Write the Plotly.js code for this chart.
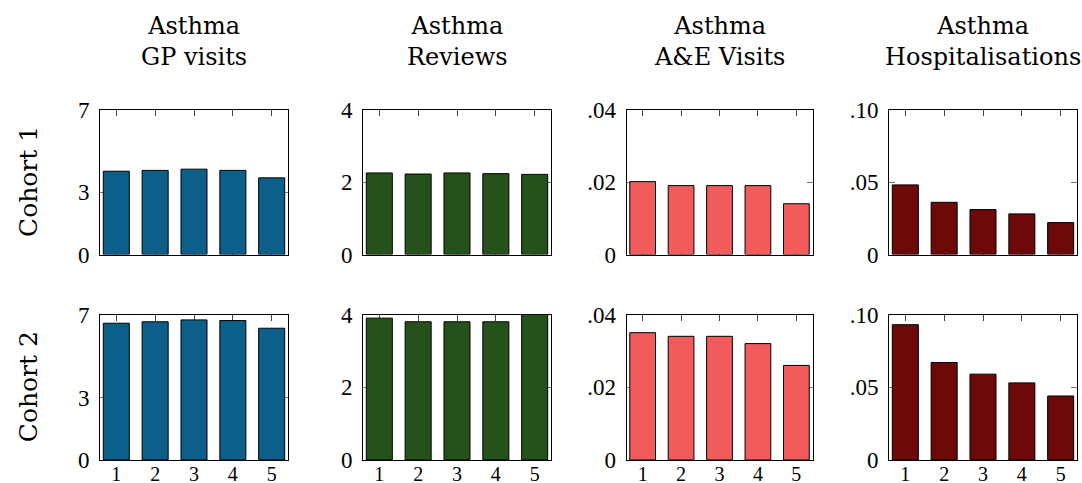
<!DOCTYPE html>
<html>
<head>
<meta charset="utf-8">
<script src="https://cdn.plot.ly/plotly-3.0.1.min.js"></script>
<style>
  html, body { margin: 0; padding: 0; background: #fff; }
  #chart { width: 1082px; height: 483px; }
</style>
</head>
<body>
<div id="chart"></div>
<script>
// Groups along the x axis
const categories = [1, 2, 3, 4, 5];

// Measure titles (one per column) and cohort labels (one per row)
const measureTitles = ["Asthma<br>GP visits", "Asthma<br>Reviews", "Asthma<br>A&E Visits", "Asthma<br>Hospitalisations"];
const cohortLabels = ["Cohort 1", "Cohort 2"];

// Values per measure and cohort
const gpVisitsCohort1 = [4.02, 4.06, 4.12, 4.06, 3.70];
const gpVisitsCohort2 = [6.58, 6.65, 6.74, 6.71, 6.34];
const reviewsCohort1 = [2.25, 2.22, 2.25, 2.23, 2.21];
const reviewsCohort2 = [3.90, 3.80, 3.80, 3.80, 4.00];
const aeVisitsCohort1 = [0.0201, 0.0190, 0.0190, 0.0190, 0.0140];
const aeVisitsCohort2 = [0.0350, 0.0340, 0.0340, 0.0320, 0.0260];
const hospCohort1 = [0.048, 0.036, 0.031, 0.028, 0.022];
const hospCohort2 = [0.093, 0.067, 0.059, 0.053, 0.044];

// Y-axis ticks per measure
const gpTickVals = [0, 3, 7];
const gpTickText = ["0", "3", "7"];
const reviewTickVals = [0, 2, 4];
const reviewTickText = ["0", "2", "4"];
const aeTickVals = [0, 0.02, 0.04];
const aeTickText = ["0", ".02", ".04"];
const hospTickVals = [0, 0.05, 0.10];
const hospTickText = ["0", ".05", ".10"];

const W = 1082, H = 483;
const colors = ["#0b5f88", "#24521a", "#f15b5c", "#6d0909"];
const rows = [
  [gpVisitsCohort1, reviewsCohort1, aeVisitsCohort1, hospCohort1],
  [gpVisitsCohort2, reviewsCohort2, aeVisitsCohort2, hospCohort2]
];
const ticks = [
  [gpTickVals, gpTickText],
  [reviewTickVals, reviewTickText],
  [aeTickVals, aeTickText],
  [hospTickVals, hospTickText]
];

// Plot-area boxes in pixels
const colPx = [[100, 288], [363, 551], [626.5, 812.5], [889, 1077]];
const rowPx = [[109.5, 254.5], [314.5, 460]];

const serif = "DejaVu Serif, serif";
const yTickFont = { family: "Liberation Serif, serif", size: 23, color: "#000" };
const xTickFont = { family: "Liberation Serif, serif", size: 20, color: "#000" };

const data = [];
const layout = {
  width: W, height: H,
  margin: { l: 0, r: 0, t: 0, b: 0 },
  paper_bgcolor: "#fff",
  plot_bgcolor: "#fff",
  showlegend: false,
  bargap: 0,
  annotations: []
};

let n = 0;
for (let r = 0; r < 2; r++) {
  for (let c = 0; c < 4; c++) {
    n++;
    const xa = "x" + (n === 1 ? "" : n);
    const ya = "y" + (n === 1 ? "" : n);
    data.push({
      type: "bar",
      x: categories,
      y: rows[r][c],
      xaxis: xa, yaxis: ya,
      width: 0.67,
      marker: { color: colors[c], line: { color: "#000", width: 1 } },
      hoverinfo: "x+y"
    });
    const top = ticks[c][0][ticks[c][0].length - 1];
    layout["xaxis" + (n === 1 ? "" : n)] = {
      domain: [colPx[c][0] / W, colPx[c][1] / W],
      range: [0.58, 5.42],
      anchor: ya,
      tickvals: categories,
      ticktext: categories.map(String),
      showticklabels: r === 1,
      ticks: "inside", ticklen: 6, tickwidth: 1, tickcolor: "#444",
      mirror: "ticks",
      showline: true, linecolor: "#000", linewidth: 1,
      showgrid: false, zeroline: false,
      layer: "below traces",
      tickfont: xTickFont,
      ticklabelstandoff: -4,
      fixedrange: true
    };
    layout["yaxis" + (n === 1 ? "" : n)] = {
      domain: [1 - rowPx[r][1] / H, 1 - rowPx[r][0] / H],
      range: [0, top],
      anchor: xa,
      tickvals: ticks[c][0],
      ticktext: ticks[c][1],
      ticks: "inside", ticklen: 6, tickwidth: 1, tickcolor: "#777",
      mirror: "ticks",
      showline: true, linecolor: "#000", linewidth: 1,
      showgrid: false, zeroline: false,
      layer: "below traces",
      tickfont: yTickFont,
      ticklabelstandoff: 5,
      fixedrange: true
    };
  }
}

// Column titles
for (let c = 0; c < 4; c++) {
  layout.annotations.push({
    xref: "paper", yref: "paper",
    x: (colPx[c][0] + colPx[c][1]) / 2 / W,
    y: 1 - 42 / H,
    xanchor: "center", yanchor: "middle",
    text: measureTitles[c],
    showarrow: false,
    align: "center",
    font: { family: serif, size: 24, color: "#000" }
  });
}

// Row labels
for (let r = 0; r < 2; r++) {
  layout.annotations.push({
    xref: "paper", yref: "paper",
    x: 28 / W,
    y: 1 - (rowPx[r][0] + rowPx[r][1]) / 2 / H,
    xanchor: "center", yanchor: "middle",
    text: cohortLabels[r],
    textangle: -90,
    showarrow: false,
    font: { family: serif, size: 25, color: "#000" }
  });
}

Plotly.newPlot("chart", data, layout, { displayModeBar: false, staticPlot: true });
</script>
</body>
</html>
